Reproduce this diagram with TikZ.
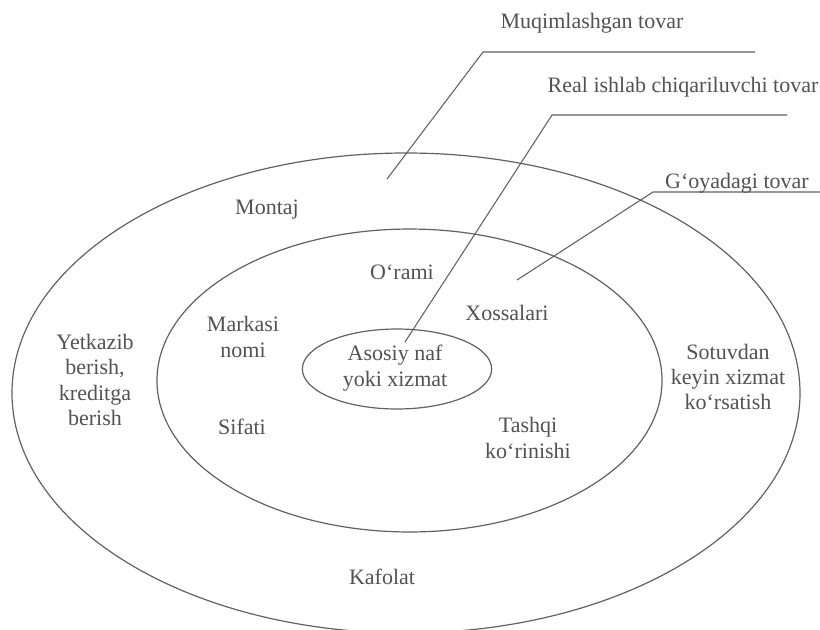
\documentclass[tikz,border=0pt]{standalone}
\usepackage{fontspec}
\setmainfont{Liberation Serif}
\begin{document}
\begin{tikzpicture}[x=0.75pt,y=-0.75pt,
  ring/.style={draw=black!62, line width=0.9pt},
  leader/.style={draw=black!62, line width=0.8pt},
  lbl/.style={text=black!68, font=\fontsize{16.5}{19}\selectfont, align=center, inner sep=0pt}]
\useasboundingbox (0,0) rectangle (820,629);
\begin{scope}
\clip (0,0) rectangle (820,629);
\draw[ring] (406,393) ellipse [x radius=295.5pt, y radius=180pt];
\end{scope}
\draw[ring] (409.5,380.5) ellipse [x radius=189.4pt, y radius=113.6pt];
\draw[ring] (397,369) ellipse [x radius=71pt, y radius=30pt];
% leaders
\coordinate (m0) at (755,52);
\coordinate (m1) at (483,52);
\coordinate (m2) at (387,179);
\coordinate (r0) at (787,115);
\coordinate (r1) at (552,115);
\coordinate (r2) at (405,342);
\coordinate (g0) at (820,192);
\coordinate (g1) at (653,192);
\coordinate (g2) at (517,280);
\draw[leader] (m0) -- (m1) -- (m2);
\draw[leader] (r0) -- (r1) -- (r2);
\draw[leader] (g0) -- (g1) -- (g2);
% labels
\node[lbl] (muq) at (592,23) {Muqimlashgan tovar};
\node[lbl] (real) at (683,87) {Real ishlab chiqariluvchi tovar};
\node[lbl] (goy) at (737,183) {G‘oyadagi tovar};
\node[lbl] (montaj) at (267,210) {Montaj};
\node[lbl] (orami) at (402,272) {O‘rami};
\node[lbl] (xoss) at (507,313) {Xossalari};
\node[lbl] (mark) at (243,337) {Markasi\\nomi};
\node[lbl] (asos) at (395,368) {Asosiy naf\\yoki xizmat};
\node[lbl] (yetk) at (95,380) {Yetkazib\\berish,\\kreditga\\berish};
\node[lbl] (sotuv) at (728,377) {Sotuvdan\\keyin xizmat\\ko‘rsatish};
\node[lbl] (sifat) at (242,427) {Sifati};
\node[lbl] (tashqi) at (528,438) {Tashqi\\ko‘rinishi};
\node[lbl] (kafolat) at (382,577) {Kafolat};
\end{tikzpicture}
\end{document}
